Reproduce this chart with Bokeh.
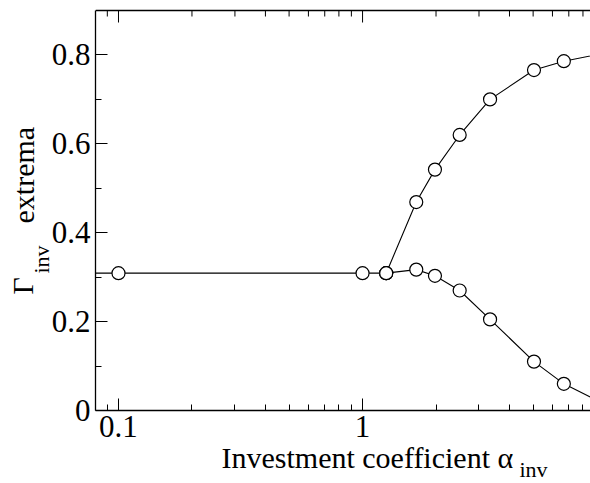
import math
from bokeh.plotting import figure
from bokeh.models import (FixedTicker, PrintfTickFormatter, Label, Range1d,
                          BoxAnnotation)
from bokeh.embed import file_html
from bokeh.resources import INLINE

# ---- data ----
alpha_flat = [0.05, 0.1, 1.0, 1.25]
gamma_flat = [0.309, 0.309, 0.309, 0.309]

alpha_branch = [1.25, 1.66, 1.98, 2.5, 3.33, 5.04, 6.68, 10.0]
gamma_max = [0.309, 0.469, 0.542, 0.620, 0.700, 0.766, 0.786, 0.805]
gamma_min = [0.309, 0.317, 0.303, 0.270, 0.205, 0.110, 0.060, 0.012]

x_major = [0.1, 1.0]
x_minor = [0.09, 0.2, 0.3, 0.4, 0.5, 0.6, 0.7, 0.8, 0.9, 2, 3, 4, 5, 6, 7, 8]
y_major = [0.0, 0.2, 0.4, 0.6, 0.8]
y_minor = [0.1, 0.3, 0.5, 0.7]

# axis box limits
X_START, X_END = 0.0805, 8.59
Y_START, Y_END = 0.0, 0.9

# ---- layout in pixels ----
W, H = 590, 482
BOX_L, BOX_R, BOX_T, BOX_B = 95, 590, 10, 410

decade_px = (BOX_R - BOX_L) / (math.log10(X_END) - math.log10(X_START))
xr0 = 10 ** (math.log10(X_START) - BOX_L / decade_px)
xr1 = 10 ** (math.log10(X_END) + (W - BOX_R) / decade_px)
unit_px = (BOX_B - BOX_T) / (Y_END - Y_START)
yr0 = Y_START - (H - BOX_B) / unit_px
yr1 = Y_END + BOX_T / unit_px

FONT = "Liberation Serif"

p = figure(width=W, height=H, x_axis_type="log",
           x_range=Range1d(xr0, xr1), y_range=Range1d(yr0, yr1),
           output_backend="svg", toolbar_location=None,
           min_border_left=0, min_border_right=0, min_border_top=0,
           min_border_bottom=0)
p.grid.visible = False
p.outline_line_color = None
p.background_fill_color = "white"
p.border_fill_color = "white"


def style(ax):
    ax.major_tick_in = 12
    ax.major_tick_out = 0
    ax.minor_tick_in = 6
    ax.minor_tick_out = 0
    ax.axis_line_width = 1.3
    ax.axis_line_color = "black"
    ax.major_tick_line_color = "black"
    ax.minor_tick_line_color = "black"
    ax.major_tick_line_width = 1
    ax.minor_tick_line_width = 1
    ax.major_label_text_font = FONT
    ax.major_label_text_color = "black"
    ax.major_label_text_font_size = "31px"
    ax.major_label_standoff = 5
    ax.formatter = PrintfTickFormatter(format="%g")
    ax.axis_label = None


xa = p.xaxis[0]
xa.ticker = FixedTicker(ticks=x_major, minor_ticks=x_minor)
xa.fixed_location = Y_START
xa.bounds = (X_START, X_END)
style(xa)
ya = p.yaxis[0]
ya.ticker = FixedTicker(ticks=y_major, minor_ticks=y_minor)
ya.fixed_location = X_START
ya.bounds = (Y_START, Y_END)
style(ya)

# ---- curves and markers ----
for xs, ys in ((alpha_flat, gamma_flat), (alpha_branch, gamma_max), (alpha_branch, gamma_min)):
    p.line(xs, ys, line_color="black", line_width=1.1)
for xs, ys in ((alpha_flat, gamma_flat), (alpha_branch, gamma_max), (alpha_branch, gamma_min)):
    p.scatter(xs, ys, marker="circle", size=13, fill_color="white",
              line_color="black", line_width=1.2)

# mask everything left of the axis box (data there is outside the shown range)
p.add_layout(BoxAnnotation(right=X_START, fill_color="white", fill_alpha=1.0,
                           line_color=None, level="glyph"))

# top border with inward ticks
p.segment(x0=[X_START], y0=[Y_END], x1=[X_END], y1=[Y_END],
          line_color="black", line_width=1.3)
p.ray(x=x_major, y=[Y_END] * len(x_major), length=12, length_units="screen",
      angle=-math.pi / 2, line_color="black", line_width=1)
p.ray(x=x_minor, y=[Y_END] * len(x_minor), length=6, length_units="screen",
      angle=-math.pi / 2, line_color="black", line_width=1)

# ---- axis titles as real text (screen units from bottom-left of frame) ----
def lab(text, X, Y, size, angle=0.0):
    p.add_layout(Label(x=X, y=H - Y, x_units="screen", y_units="screen", text=text,
                       text_font=FONT, text_font_size=size, text_color="black",
                       text_align="left", text_baseline="alphabetic", angle=angle))

lab("Investment coefficient \u03b1", 221, 457, "30px")
lab("inv", 519, 469, "22px")
lab("\u0393", 22, 294, "30px", math.pi / 2)
lab("inv", 41, 273, "22px", math.pi / 2)
lab("extrema", 23, 223, "30px", math.pi / 2)

open("out.html", "w").write(file_html(p, INLINE))
